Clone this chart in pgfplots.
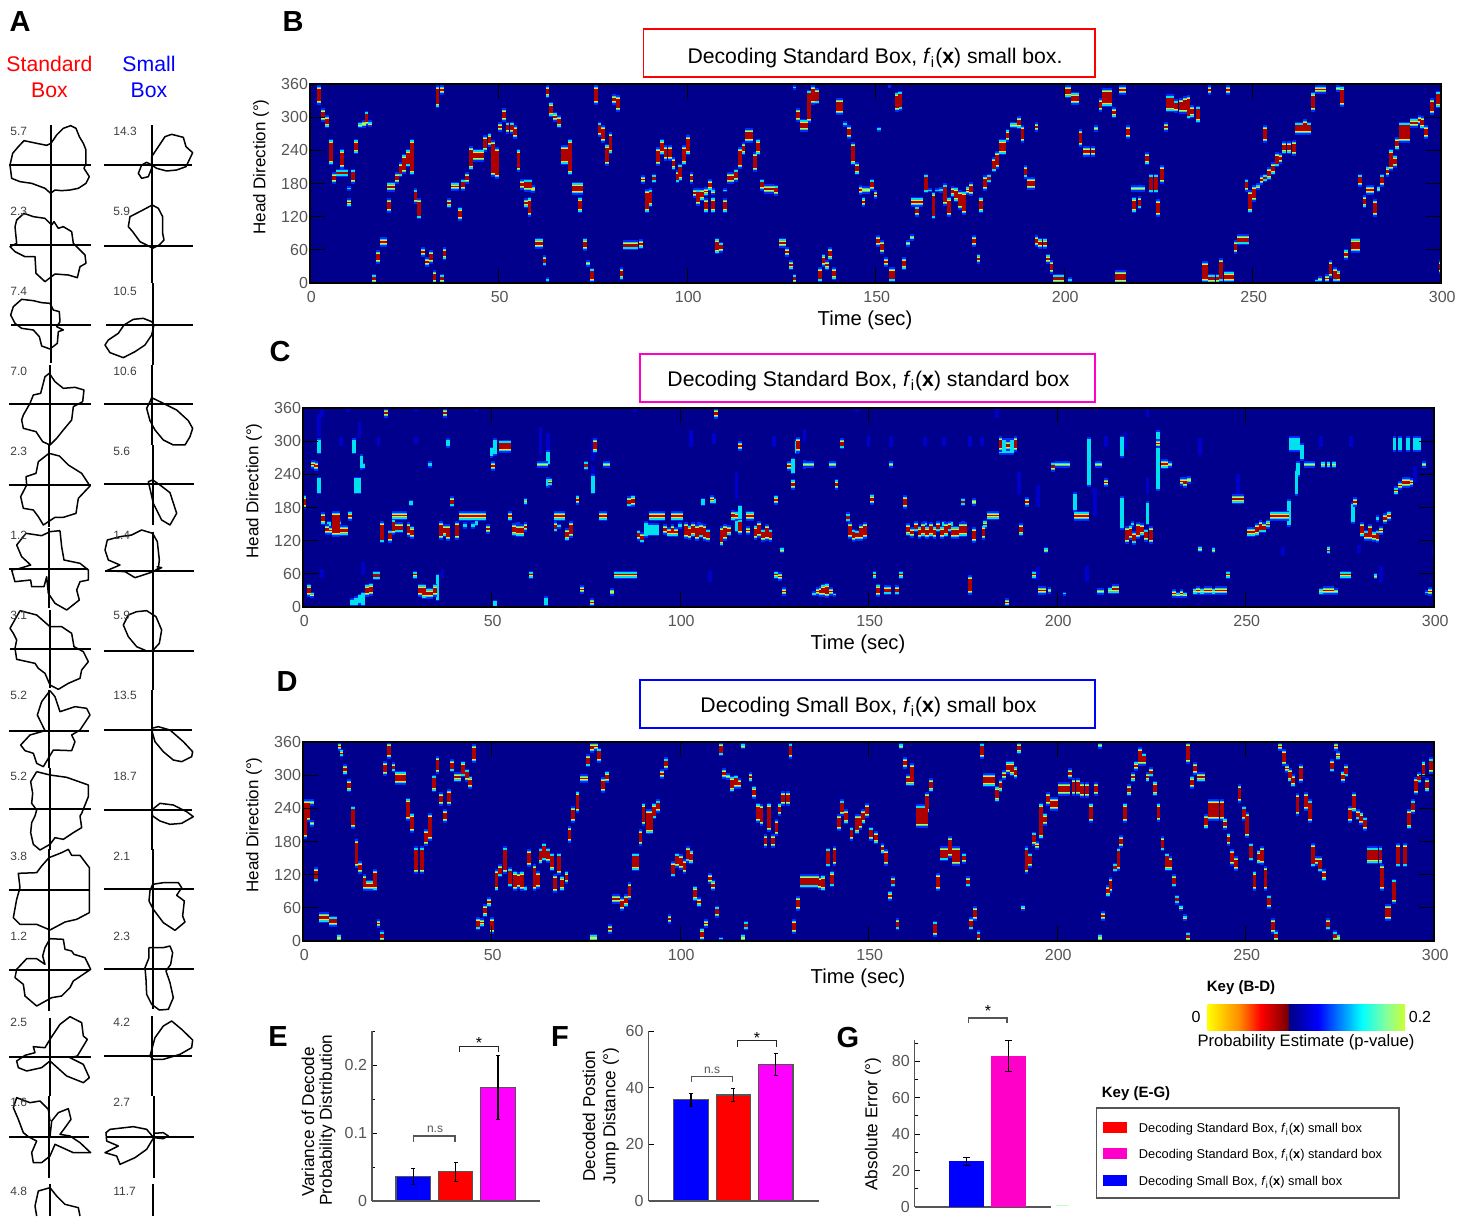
\documentclass[border=0pt]{standalone}
\usepackage{pgfplots}
\usepackage{pgfplotstable}
\usepackage{fontspec}
\setmainfont{Liberation Sans}
\pgfplotsset{compat=1.18}
\definecolor{hb}{RGB}{0,0,140}
\definecolor{jb}{RGB}{0,40,255}
\definecolor{jc}{RGB}{0,225,240}
\definecolor{jy}{RGB}{255,225,0}
\definecolor{jr}{RGB}{175,0,0}
\definecolor{jf}{RGB}{0,0,205}
\definecolor{tg}{RGB}{85,85,85}
\definecolor{mg}{RGB}{255,0,200}
\definecolor{mgg}{RGB}{255,0,255}
\definecolor{kor}{RGB}{255,140,0}
\definecolor{kdr}{RGB}{120,0,0}
\definecolor{kdb}{RGB}{0,0,130}
\definecolor{kgr}{RGB}{128,255,160}
\definecolor{kyg}{RGB}{205,255,50}
\pgfdeclarehorizontalshading{keybar}{100bp}{color(0bp)=(yellow); color(25bp)=(yellow); color(33bp)=(kor); color(38.5bp)=(red); color(45.4bp)=(kdr); color(45.5bp)=(kdb); color(53bp)=(blue); color(64bp)=(cyan); color(70bp)=(kgr); color(75bp)=(kyg); color(100bp)=(kyg)}

\pgfplotstableread[row sep=\\]{x y h\\
2.4 340 18\\3.5 304 12\\4.5 292 12\\5.5 237 24\\6.4 190 11\\7.5 199 8\\8.5 199 8\\8.5 225 18\\9.5 199 8\\10.4 171 4\\10.4 145 8\\11.3 193 14\\12.3 247 14\\13.3 286 6\\14.3 288 7\\15 298 14\\16 288 6\\17 8 9\\18 47 12\\19 74 9\\20 74 9\\21 140 13\\21 174 9\\22 174 9\\23 190 11\\24 205 14\\25 216 18\\26 226 17\\27 228 33\\28 157 14\\29 134 19\\30 56 9\\31 38 9\\32 47 12\\33 11 12\\33.8 337 21\\35 349 9\\35 8 9\\35.7 53 12\\36.8 144 9\\38 175 8\\39 175 8\\39.7 125 13\\40.6 178 11\\41.7 190 11\\42.6 226 22\\43.6 231 12\\44.6 231 12\\45.7 231 12\\46.5 252 15\\47.6 259 13\\48.6 225 33\\49.5 217 29\\50.4 282 9\\51.4 304 12\\52.4 281 11\\53.5 281 11\\54.3 273 12\\55.3 222 21\\56.2 178 10\\57.2 177 12\\58.3 177 12\\59.2 170 7\\57.2 144 9\\58.2 138 18\\60.2 72 10\\61.2 72 10\\62.2 40 10\\63 5 5\\63 346 12\\64 314 14\\65 301 9\\66 292 12\\67 231 18\\68 231 18\\68.9 228 33\\70 171 12\\71 171 12\\72 171 12\\71.7 141 15\\72.9 70 12\\73.8 35 6\\74.8 14 14\\75.8 340 18\\76.8 278 14\\77.7 270 16\\78.8 232 20\\79.7 253 20\\80.7 332 10\\81.6 325 15\\82.6 17 12\\83.6 68 9\\84.6 68 9\\85.6 68 9\\86.6 68 9\\87.7 70 9\\88.3 187 8\\89.3 148 22\\90.3 154 17\\91.3 189 9\\92.3 229 17\\93.3 246 15\\94.3 235 14\\95.4 235 14\\96.4 216 12\\97.5 192 12\\98.2 200 16\\99.3 231 18\\100.2 249 18\\101.2 190 11\\102 163 9\\103 155 16\\104 160 12\\105 140 14\\105 165 8\\106 177 11\\107 165 6\\107 141 15\\108 67 15\\109 65 10\\110 140 14\\110 168 4\\111 190 11\\112 190 11\\113 195 12\\114 226 20\\115 243 12\\116 267 13\\117 267 13\\118 219 18\\118.8 246 15\\119.8 178 11\\120.8 170 9\\121.8 170 9\\122.8 170 9\\123.7 168 10\\124.8 73 9\\125.8 73 9\\126.5 56 9\\127.5 32 9\\128.5 8 9\\128.5 354 4\\129.5 304 12\\130.5 285 12\\131.5 285 12\\132.3 320 30\\133.5 340 18\\134.5 338 15\\135.3 15 14\\136.2 41 12\\137.2 32 9\\138 53 12\\139 17 12\\140 319 15\\141 319 15\\142 288 5\\143 273 12\\144 234 21\\145 207 12\\146 168 9\\147 168 7\\148 168 7\\149 178 11\\150 160 8\\146.8 147 9\\151 278 5\\153.7 355 3\\155.7 328 18\\156.6 330 18\\150.7 76 11\\151.8 65 12\\152.8 38 9\\154 15 14\\154.7 15 14\\157.6 35 12\\158.6 71 6\\159.7 82 6\\160 147 9\\161 147 9\\162 147 9\\161 130 10\\163.4 180 18\\164.4 168 4\\165.4 140 25\\166.4 168 4\\167.4 168 5\\168.4 160 20\\169.4 138 18\\170.4 165 10\\171.4 160 14\\172.4 150 18\\173.4 145 22\\174.4 168 8\\175.4 170 12\\176.2 76 11\\177.3 44 9\\178 141 15\\179 181 14\\180 189 9\\181.4 214 14\\182.3 222 16\\183.2 246 15\\184.2 246 15\\185 267 12\\186.2 286 6\\187.2 286 6\\188 290 12\\189 270 16\\189.8 201 12\\190.7 180 12\\191.8 180 12\\192.7 282 9\\192.7 76 11\\193.7 72 10\\195 72 10\\195.7 44 9\\196.7 29 12\\197.6 8 9\\198.6 8 9\\199.7 8 9\\201.5 5 5\\200.5 346 12\\201.3 346 12\\202.3 334 12\\203.4 334 12\\204.4 262 16\\205.5 238 10\\206.5 238 10\\207.6 238 10\\208.4 280 6\\209.7 322 12\\210.7 335 17\\211.7 335 17\\212.3 335 17\\213.2 308 10\\215 349 9\\216 349 9\\214 11 12\\215 11 12\\216 11 12\\217 273 12\\218.3 171 6\\219.3 171 6\\220.3 171 6\\221 171 6\\218.6 141 15\\220 145 12\\222 225 12\\223 180 18\\224.5 180 18\\226 196 17\\225 136 16\\227 282 9\\227.6 325 16\\228.6 325 16\\229.7 320 12\\231 320 14\\232 322 16\\233 318 22\\234 310 12\\235.5 305 16\\237 20 20\\237.8 20 20\\238.6 349 9\\243.4 349 9\\238.6 8 9\\239.6 8 9\\240.7 8 9\\241.6 23 22\\243 11 11\\244 11 11\\244.6 11 11\\245.5 65 12\\246.5 78 10\\247.5 78 10\\248.6 78 10\\248.4 177 12\\249.4 147 21\\250.4 162 15\\251.4 174 6\\252.4 186 9\\253.4 190 8\\254.4 198 12\\255.5 207 12\\256.5 223 14\\257.3 225 10\\253.3 270 16\\258.3 245 12\\259.7 245 12\\261 244 14\\261.8 280 12\\262.8 280 12\\264 282 14\\265 280 12\\266 328 18\\267 350 8\\268 350 8\\269 350 8\\273.7 338 19\\272.7 352 6\\267 4 4\\268 6 6\\269.7 8 8\\270.7 25 16\\271.8 15 14\\272.8 12 12\\274.7 52 10\\276.5 68 14\\277.3 68 14\\278 68 14\\278.6 186 12\\279.7 147 12\\280.7 168 9\\281.7 168 9\\282.5 136 16\\283.4 170 6\\284.4 186 12\\285.8 202 10\\286.8 223 20\\287.8 220 12\\288.4 252 12\\289.4 273 19\\290.4 273 19\\291.3 273 19\\292.3 290 9\\293.3 290 9\\294.3 295 9\\295 290 12\\296.1 273 12\\297.7 319 15\\299.2 332 16\\299.9 29 12\\
}\tabB

\pgfplotstableread[row sep=\\]{x y h\\
.4 190 13\\1.5 30 12\\2.4 22 6\\2.6 258 8\\3.5 255 9\\5.3 160 12\\6.3 140 10\\7.3 138 8\\8.3 150 23\\9.3 150 23\\10.3 138 10\\11.3 138 10\\12.4 165 9\\17 30 12\\18 32 12\\19 57 9\\20 57 9\\21 135 20\\22 351 9\\23 128 12\\24 145 15\\24 165 8\\25 165 8\\26 165 8\\27 165 8\\25 143 10\\26 143 10\\28 140 13\\29 135 12\\29.7 58 8\\31 30 12\\32 28 14\\33 25 10\\34 25 10\\35 30 12\\37.6 351 9\\36.5 138 17\\37.5 138 12\\38.5 135 15\\39.6 190 10\\40.8 138 17\\42 164 9\\43 164 9\\44 164 9\\45 164 9\\46 164 9\\47 164 9\\48 164 9\\49 141 9\\50.4 255 9\\52.5 291 12\\53.5 291 12\\54.6 291 12\\55 164 9\\56 140 12\\57 138 12\\58 138 12\\59 145 9\\59 191 7\\60.5 58 8\\62.5 258 6\\63.5 258 6\\64.5 258 6\\65.6 226 8\\67 164 9\\68 164 9\\69 164 9\\67 145 10\\70 131 12\\71 140 15\\72.8 194 9\\74 32 8\\75 256 9\\76.7 8 8\\77.5 292 14\\80 258 6\\81 258 6\\82 27 7\\79 164 9\\80 164 9\\83 58 8\\84 58 8\\85 58 8\\86 58 8\\87 58 8\\88 58 8\\86.5 190 10\\87.5 192 11\\89 130 10\\90 125 10\\92.4 164 9\\93.4 164 9\\94.4 164 9\\95.5 164 9\\98.2 164 9\\99.2 164 9\\100.3 164 9\\96 140 10\\97 135 9\\98 138 12\\99 135 9\\101.5 138 15\\102.5 135 14\\103.5 140 14\\104.5 135 15\\105.5 138 14\\106.5 135 15\\107.5 130 12\\108.5 194 8\\109.5 350 10\\111 128 18\\112 135 15\\113 138 10\\114 165 10\\115 165 9\\116 291 9\\116 145 15\\118 165 9\\119 165 9\\118 138 8\\120 135 14\\121 140 15\\122 130 12\\123 135 15\\124 130 12\\125.5 194 9\\125.5 58 8\\126.5 55 8\\127 103 6\\127.5 28 8\\129 255 9\\130 222 10\\131.3 293 14\\133 258 6\\134 258 6\\135 258 6\\140 258 6\\141 258 6\\143 295 10\\141.5 222 10\\135.5 24 5\\136.5 28 8\\137.5 28 10\\138 30 12\\139 30 14\\140 28 8\\141 22 4\\144.5 162 9\\145 138 15\\146 130 12\\147 130 10\\148 135 15\\149 138 15\\151 195 10\\151.6 58 8\\152.6 30 12\\154.5 30 9\\155.5 30 9\\157.5 30 9\\156 258 6\\158.6 58 8\\159.7 190 12\\160.5 140 12\\161.5 135 10\\162.5 145 10\\163.5 135 12\\164.5 140 14\\165.5 135 12\\166.5 140 14\\167.5 135 12\\168.5 145 10\\169.5 135 12\\170.5 140 14\\171.5 145 10\\172.5 135 12\\173.5 135 12\\174.5 140 14\\175.5 140 14\\175 190 8\\178 190 7\\177 40 18\\178 130 14\\180.5 135 14\\181 150 8\\182 165 8\\183 165 8\\184 165 8\\185 295 14\\187 292 10\\189 295 14\\186.8 8 8\\190.5 140 12\\192 190 9\\194 58 8\\195.5 30 8\\196.5 30 8\\197 103 6\\198 30 6\\199 254 9\\200 258 6\\201 258 6\\202 258 6\\203 258 6\\202 24 4\\205 165 9\\206 165 9\\207 165 9\\208 165 9\\210.5 258 6\\211.5 258 6\\213 225 8\\211 28 6\\212 28 6\\214 30 7\\215 32 9\\216 32 9\\218.5 130 16\\219.5 135 14\\220.5 125 12\\221.5 138 15\\222.5 140 12\\223.5 130 12\\225 130 16\\226.8 296 8\\228 258 9\\229 258 9\\230 258 6\\233 227 8\\234 225 10\\235 230 7\\231 24 8\\232 22 6\\233 24 8\\234 22 6\\236.5 28 7\\237.5 30 8\\238.5 28 7\\239.5 30 8\\240.5 30 8\\241.5 28 7\\242.5 30 8\\243.5 30 8\\244.5 30 8\\238 105 6\\241.5 103 6\\245.3 58 8\\247 195 9\\248 195 9\\249 195 9\\251 135 9\\252 135 9\\253 140 12\\254 145 12\\255 143 10\\256 150 8\\257 165 9\\258 165 9\\259 165 9\\260 165 9\\261 165 9\\266 258 6\\267 258 6\\268 258 6\\270.5 258 7\\272 258 7\\273.5 258 7\\270 28 7\\271 30 8\\272 30 8\\273 30 8\\274 28 6\\275.5 58 8\\276.5 58 8\\277.5 58 8\\272 103 8\\279 190 9\\281 140 14\\282 130 10\\283 135 15\\284 128 10\\285 128 12\\286 138 8\\284.5 56 6\\287 160 10\\288 165 9\\290 210 8\\291 220 8\\292 225 10\\293 225 10\\294 225 8\\297.4 258 6\\298 26 4\\299 28 8\\
}\tabC

\pgfplotstableread[row sep=\\]{x y h\\
4.3 291 15\\4.3 220 16\\13.5 291 15\\14 220 16\\15 220 16\\15.5 262 14\\16 255 6\\13 8 8\\14 10 10\\15 14 10\\16 14 14\\28.7 188 6\\33.6 258 6\\35.7 35 25\\38.5 297 9\\50 280 10\\51 290 16\\51 6 7\\65 270 14\\65 225 10\\77 222 18\\64.5 10 9\\91 140 15\\92 140 12\\93 140 12\\94 140 12\\106 190 8\\109 192 6\\115 150 15\\116 165 20\\131 290 14\\130 255 15\\133 258 8\\185 290 15\\186 290 15\\187 290 15\\188 290 15\\208.5 262 45\\217.2 170 30\\217.2 290 20\\224 170 22\\226.8 270 50\\226.8 225 15\\204.7 190 18\\262 295 14\\263 295 14\\264 295 14\\265 280 16\\261.5 170 25\\263.5 225 24\\264 250 14\\278.5 170 20\\289.5 295 14\\291 295 14\\293 295 14\\295 295 14\\296 295 14\\7 150 6\\9.5 152 5\\45 148 6\\46 152 6\\43 148 6\\57 148 5\\68 146 5\\100 148 6\\105 150 4\\165 150 5\\170 150 6\\172 150 6\\175 150 5\\220 150 5\\285 160 6\\
}\tabCc

\pgfplotstableread[row sep=\\]{x y h\\
4.3 330 20\\15 320 15\\20 300 8\\10 300 8\\30 300 5\\63 300 25\\65 295 20\\77 230 25\\77 285 20\\103 305 15\\109 305 10\\115 220 25\\125 300 10\\133 310 12\\150 300 10\\156 300 10\\165 300 8\\170 300 8\\177 300 10\\180 300 8\\190 225 20\\195 200 20\\210 190 25\\213 300 10\\218 300 15\\224 220 15\\238 290 15\\248 220 20\\270 300 10\\278 300 10\\286 60 15\\295 240 15\\5 350 6\\12 356 3\\30 356 3\\46 356 3\\88 356 3\\147 356 3\\184 350 8\\224 350 6\\5 60 8\\37 60 8\\16 70 12\\108 55 10\\195 60 12\\208 60 15\\280 105 8\\260 100 8\\300 100 8\\
}\tabCf

\pgfplotstableread[row sep=\\]{x y h\\
.5 221 36\\1.3 236 21\\2.3 251 6\\2.3 213 6\\3.4 120 14\\4.7 42 10\\5.7 42 10\\6.3 42 10\\7.4 36 10\\8.4 36 10\\9.5 6 7\\9.7 352 8\\10.2 340 8\\11.2 310 10\\12.2 281 12\\13.2 224 21\\14.2 158 26\\15.1 133 12\\16.3 106 15\\17.3 101 10\\18.3 101 10\\19 110 20\\20 32 8\\21 9 10\\22.9 345 15\\21.8 312 13\\24 314 9\\25 295 13\\26 295 13\\26.8 295 13\\27.8 238 21\\28.9 214 18\\30 146 25\\31.5 146 25\\32.6 187 15\\33.6 206 25\\34.7 285 16\\35.7 318 16\\36.6 257 12\\37.6 226 12\\38.7 260 15\\39.6 317 12\\40.6 296 9\\41.5 296 9\\42.5 311 15\\43.5 300 12\\44.4 287 12\\45.4 339 17\\46.5 31 12\\47.5 33 8\\48.3 55 12\\49.4 70 9\\50.2 28 15\\51.3 110 20\\52.3 127 12\\53.6 146 25\\54.8 115 18\\56.2 109 18\\57 109 15\\58 109 18\\59 95 5\\60 150 16\\61.4 115 24\\62.3 110 16\\63 154 15\\64 161 17\\65 155 14\\66 143 17\\66.9 104 17\\67.9 140 20\\68.8 104 14\\69.9 115 12\\70.7 193 15\\71.7 229 15\\72.8 252 20\\74 294 8\\75 294 8\\75.6 326 12\\76.7 350 10\\77.7 352 8\\78.6 336 14\\76.7 6 7\\77.6 6 7\\79.6 282 14\\80.6 297 11\\81.5 22 9\\82.5 76 9\\83.5 76 9\\84.6 67 12\\85.6 73 12\\86.6 90 16\\87.7 143 17\\88.5 143 17\\89.5 187 15\\90.3 229 21\\91.4 216 23\\92.4 216 23\\93.2 235 15\\94.2 244 12\\95.3 302 9\\96.2 321 11\\97.2 40 9\\98.2 130 15\\99.3 146 14\\100.3 143 14\\101.2 135 13\\102.1 157 15\\103 152 13\\104 86 14\\105 70 9\\105.9 12 12\\107 32 8\\107.9 113 10\\108.8 101 10\\109.9 53 11\\110.8 4 4\\110.8 347 13\\111.7 303 10\\112.7 298 6\\113.8 284 15\\114.8 288 13\\115.8 285 10\\116.7 353 6\\116.7 6 7\\117.6 28 9\\118.7 296 9\\119.6 269 12\\120.6 232 18\\121.6 228 20\\122.7 181 12\\123.7 224 26\\124.6 181 12\\125.6 205 15\\126.4 238 12\\127.3 258 13\\128.6 258 13\\129.3 344 15\\130.3 26 13\\131.4 68 13\\132.3 108 13\\133.3 108 13\\134.3 108 13\\135.3 108 13\\136.3 108 13\\137 105 12\\138 105 15\\139.2 151 18\\140.3 112 15\\141 154 18\\142.1 214 15\\143 241 15\\144 225 14\\145.5 194 13\\146.9 211 18\\147.7 215 14\\148.5 225 14\\149.5 236 13\\150.7 194 13\\152 187 12\\153.7 167 10\\154.7 151 15\\156.5 107 10\\155.8 82 9\\157.7 30 11\\158.7 353 6\\159.7 322 11\\161.6 301 21\\160.5 291 11\\165.5 250 19\\166.5 282 13\\163.2 226 21\\164.2 226 21\\165.3 226 21\\167.6 22 15\\168.4 107 16\\169.5 158 14\\170.5 158 14\\171.6 170 20\\172.6 154 18\\173.7 154 18\\175.3 150 10\\176.3 107 10\\177.2 31 12\\178.2 50 13\\179.2 9 10\\180.2 344 15\\181 291 13\\182 291 13\\183 291 13\\184 266 15\\185 281 12\\186 300 9\\187 314 12\\188 312 14\\189 305 12\\190 349 11\\191 60 6\\191.9 146 25\\192.8 146 14\\193.8 185 13\\194.7 173 8\\195.8 217 33\\196.8 220 12\\197.7 257 12\\198.6 248 12\\199.7 248 12\\200.8 275 12\\201.8 275 12\\203 275 12\\203.5 303 10\\204.4 279 16\\205.5 279 16\\206.6 273 14\\207.9 273 14\\209 232 18\\210.3 275 12\\211.4 354 6\\211.4 6 7\\212.3 45 9\\213.5 90 11\\214.2 101 14\\215.3 133 9\\216.3 148 21\\217 180 11\\218 232 18\\219.2 273 11\\220.1 296 9\\221 317 9\\222 334 17\\223 329 12\\224 296 9\\225 305 9\\226 276 14\\226.9 233 17\\228 176 14\\229.2 143 17\\230 140 14\\231 109 12\\231.8 75 9\\232.9 60 6\\233.9 42 6\\234.7 8 9\\234.7 340 20\\235.8 287 12\\236.6 312 11\\237.7 296 9\\238.7 296 9\\239.6 216 14\\240.5 237 20\\241.5 237 20\\242.5 237 20\\243.7 237 20\\244.5 212 11\\245.5 184 12\\246.5 151 15\\247.5 140 13\\248.4 267 17\\249.5 231 14\\250.3 210 23\\251.4 161 17\\252.4 109 18\\253.5 152 13\\254.4 155 17\\255.3 113 22\\256.2 71 13\\257.3 27 14\\258.1 9 10\\259.2 352 8\\260.2 332 15\\261 312 8\\261.7 300 13\\262.7 290 12\\263.8 247 21\\264.7 303 17\\266 252 17\\267 235 21\\267.9 155 22\\269 145 9\\269.8 139 15\\270.8 119 11\\271.9 30 11\\272.9 317 12\\273.9 352 8\\274.5 335 8\\273.8 9 10\\274.5 6 7\\275.8 297 11\\276.7 308 12\\277.7 229 15\\278.7 251 18\\279.8 228 10\\280.7 222 12\\281.7 212 13\\282.7 155 16\\283.7 155 16\\284.7 155 16\\285.8 155 16\\286.3 115 24\\287.4 52 15\\288.2 52 15\\289.3 90 23\\290.5 155 22\\292.4 155 22\\293.3 220 18\\294.4 243 13\\295.3 280 16\\296.1 295 10\\297.2 311 15\\298.2 282 13\\299.1 317 15\\
}\tabD

% every row of a table is a vertical streak x, y +- h; one path per colour layer
\def\addseg#1#2{\ifdim \vh pt>#2pt \edef#1{#1(\vx,\fpeval{\vy-\vh+#2})(\vx,\fpeval{\vy+\vh-#2})(\vx,nan)}\fi}
\newcommand{\build}[1]{%
 \pgfplotstablegetrowsof{#1}\pgfmathtruncatemacro\nr{\pgfplotsretval-1}%
 \def\La{}\def\Lb{}\def\Lc{}\def\Ld{}%
 \pgfplotsforeachungrouped \ii in {0,...,\nr}{%
  \pgfplotstablegetelem{\ii}{x}\of{#1}\let\vx\pgfplotsretval
  \pgfplotstablegetelem{\ii}{y}\of{#1}\let\vy\pgfplotsretval
  \pgfplotstablegetelem{\ii}{h}\of{#1}\let\vh\pgfplotsretval
  \addseg\La{0}\addseg\Lb{3}\addseg\Lc{5.5}\addseg\Ld{7}}}
\newcommand{\plt}[2]{\edef\tmpp{\noexpand\addplot[draw=#1,line width=1.9pt,no markers,line cap=butt,unbounded coords=jump] coordinates {#2};}\tmpp}
\newcommand{\heat}[1]{\build{#1}\plt{jb}{\La}\plt{jc}{\Lb}\plt{jy}{\Lc}\plt{jr}{\Ld}}
\newcommand{\cool}[1]{\build{#1}\plt{jb}{\La}\plt{jc}{\Lb}}

\pgfplotsset{
 heatax/.style={scale only axis,width=565.5pt,height=99.5pt,xmin=0,xmax=300,ymin=0,ymax=360,
  xtick={0,50,...,300},ytick={0,60,...,360},tick align=inside,axis on top,clip=true,
  axis background/.style={fill=hb},major tick length=7.5pt,tick style={black,line width=.5pt},
  /pgf/number format/assume math mode=true,
  tick label style={font=\fontsize{8}{9}\selectfont,text=tg},
  xticklabel style={yshift=-.5pt,xshift=.6pt},yticklabel style={xshift=2.5pt},
  axis line style={black,line width=.6pt}},
 barax/.style={scale only axis,axis lines=left,axis line style={-,draw=tg,line width=.6pt},
  xtick=\empty,enlargelimits=false,tick align=inside,clip=false,
  major tick length=2.5pt,minor tick length=1.5pt,tick style={black,line width=.4pt},
  /pgf/number format/assume math mode=true,
  tick label style={font=\fontsize{8}{9}\selectfont,text=tg},
  yticklabel style={xshift=1pt}},
 bb/.style={ybar,bar shift=0pt,bar width=17.2pt,fill=#1,draw=tg,line width=.6pt,
  error bars/.cd,y dir=both,y explicit,error bar style={black,line width=.6pt},
  error mark options={rotate=90,mark size=1pt,black,line width=.5pt}},
 bn/.style={ybar,bar shift=0pt,bar width=17.5pt,fill=#1,draw=none,
  error bars/.cd,y dir=both,y explicit,error bar style={black,line width=.6pt},
  error mark options={rotate=90,mark size=1.8pt,black,line width=.5pt}},
 pnl/.style={hide axis,scale only axis,clip=false,y dir=reverse,xmin=0,xmax=630,ymin=0,width=105pt},
 pl/.style={black,line width=.75pt,no markers,line join=round},
 cr/.style={black,line width=.85pt,no markers},
}
\newcommand{\pol}[1]{\addplot[pl] coordinates {#1};}
\newcommand{\crs}[6]{\addplot[cr] coordinates {(#1,#2)(#1,#3)};\addplot[cr] coordinates {(#5,#4)(#6,#4)};}
\newcommand{\fs}[1]{\fontsize{#1}{#1}\selectfont}
\newcommand{\fxi}{\textit{f}\textsubscript{i}(\textbf{x})}

\begin{document}
\begin{tikzpicture}[x=0.5pt,y=0.5pt]
\path[use as bounding box] (0,0) rectangle (1472,1216);

% ---- Panel A
\begin{axis}[pnl,at={(0pt,398pt)},anchor=south west,height=210pt,ymax=1260]
\crs{153}{375}{610}{495}{28}{272}
\pol{(153,430)(170,405)(190,385)(212,377)(228,385)(238,410)(250,430)(258,450)(258,490)(252,505)(268,530)(258,550)(235,565)(210,570)(185,572)(165,570)(152,580)(135,565)(95,550)(60,545)(35,535)(30,495)(38,460)(55,440)(72,422)(110,430)(140,436)(153,430)}
\crs{455}{375}{610}{495}{313}{575}
\pol{(455,470)(475,440)(495,410)(515,403)(550,412)(558,440)(578,458)(570,475)(558,500)(530,510)(500,513)(470,505)(455,495)(440,487)(425,495)(415,520)(425,535)(445,530)(455,505)(455,470)}
\crs{153}{610}{850}{736}{30}{272}
\pol{(155,675)(135,655)(100,650)(72,640)(50,660)(45,680)(50,730)(30,740)(45,755)(75,770)(105,770)(108,820)(135,845)(165,822)(205,825)(232,833)(240,800)(258,790)(255,765)(230,740)(220,730)(215,695)(190,680)(175,685)(162,665)(155,675)}
\crs{457}{610}{850}{739}{313}{580}
\pol{(457,615)(475,625)(488,650)(488,700)(492,720)(478,735)(458,745)(440,735)(420,725)(398,695)(385,680)(390,650)(425,632)(457,615)}
\crs{153}{850}{1090}{975}{33}{272}
\pol{(150,910)(160,930)(178,935)(180,965)(170,980)(190,990)(175,995)(172,1030)(150,1047)(125,1038)(118,1010)(100,990)(65,985)(45,970)(32,945)(40,920)(65,898)(100,902)(125,908)(150,910)}
\crs{460}{850}{1095}{975}{318}{580}
\pol{(462,975)(455,1005)(435,1035)(405,1055)(370,1073)(330,1058)(315,1035)(325,1020)(355,1000)(372,975)(400,958)(430,955)(455,965)(462,975)}
\crs{150}{1095}{1335}{1213}{28}{272}
\pol{(148,1120)(165,1145)(190,1165)(225,1162)(252,1170)(248,1205)(220,1220)(215,1260)(190,1290)(170,1315)(150,1335)(128,1325)(108,1295)(70,1285)(65,1260)(70,1245)(90,1210)(100,1185)(122,1180)(135,1130)(148,1120)}
\crs{457}{1095}{1335}{1213}{313}{578}
\pol{(455,1193)(490,1210)(530,1230)(565,1262)(578,1285)(570,1310)(555,1335)(520,1335)(490,1320)(465,1290)(450,1262)(440,1225)(450,1205)(455,1193)}
\end{axis}
\begin{axis}[pnl,at={(0pt,198pt)},anchor=south west,height=200pt,ymax=1200]
\crs{147}{75}{320}{196}{28}{272}
\pol{(147,100)(178,108)(205,135)(245,160)(270,198)(235,235)(228,280)(190,292)(165,292)(130,315)(115,290)(100,270)(70,265)(62,230)(80,195)(78,170)(108,160)(115,125)(147,100)}
\crs{458}{75}{315}{192}{313}{582}
\pol{(458,180)(470,188)(480,195)(510,218)(530,280)(510,315)(485,300)(460,250)(452,215)(445,185)(458,180)}
\crs{147}{325}{565}{446}{28}{265}
\pol{(180,332)(185,380)(192,420)(240,430)(265,450)(265,480)(240,485)(230,510)(238,540)(200,570)(165,550)(145,520)(140,470)(132,500)(95,500)(92,480)(45,485)(35,450)(60,445)(92,435)(65,410)(50,375)(78,340)(125,347)(150,335)(180,332)}
\crs{460}{335}{570}{453}{315}{582}
\pol{(458,340)(472,365)(478,420)(475,445)(460,455)(430,465)(405,473)(375,455)(320,452)(360,435)(325,420)(315,390)(322,360)(360,350)(395,345)(425,330)(458,340)}
\pol{(470,440)(485,443)(460,455)}
\crs{151}{570}{805}{687}{30}{272}
\pol{(60,572)(110,585)(150,620)(185,620)(215,640)(222,680)(250,695)(265,725)(245,750)(240,775)(205,790)(175,808)(150,795)(135,760)(115,745)(105,730)(50,718)(45,685)(50,660)(40,640)(30,625)(60,572)}
\crs{458}{570}{810}{692}{313}{582}
\pol{(458,692)(478,670)(485,630)(468,590)(440,572)(410,575)(385,585)(370,615)(385,650)(410,680)(440,693)(458,692)}
\crs{147}{810}{1045}{932}{28}{268}
\pol{(150,812)(165,830)(180,875)(225,860)(260,865)(270,885)(240,930)(215,945)(225,965)(215,992)(160,990)(130,1040)(110,1030)(100,1000)(75,992)(62,975)(90,945)(135,932)(112,885)(125,845)(150,812)}
\crs{455}{810}{1045}{930}{313}{575}
\pol{(455,925)(475,920)(510,930)(550,965)(578,995)(575,1010)(545,1025)(520,1020)(490,995)(465,965)(455,930)}
\crs{150}{1045}{1290}{1166}{28}{272}
\pol{(110,1055)(150,1065)(200,1072)(265,1095)(265,1130)(245,1180)(240,1188)(245,1223)(220,1238)(190,1258)(165,1253)(150,1273)(120,1290)(100,1273)(92,1238)(95,1208)(105,1188)(110,1170)(95,1150)(98,1120)(92,1085)(110,1055)}
\crs{455}{1045}{1290}{1170}{313}{575}
\pol{(455,1170)(480,1150)(520,1155)(560,1175)(580,1190)(545,1210)(510,1213)(480,1203)(458,1188)(455,1170)}
\end{axis}
\begin{axis}[pnl,at={(0pt,0pt)},anchor=south west,height=200pt,ymax=1200]
\crs{147}{100}{345}{221}{28}{270}
\pol{(147,125)(185,110)(205,100)(215,118)(240,118)(268,155)(268,290)(230,310)(195,318)(150,342)(110,325)(60,325)(40,305)(50,250)(60,215)(55,172)(110,170)(125,150)(147,125)}
\crs{458}{100}{340}{218}{313}{582}
\pol{(458,205)(490,200)(535,200)(545,215)(530,238)(553,255)(548,300)(555,318)(525,343)(490,320)(460,280)(447,255)(450,225)(458,205)}
\crs{147}{345}{585}{462}{28}{270}
\pol{(150,368)(190,370)(195,400)(215,405)(222,415)(255,425)(272,460)(220,495)(210,515)(185,540)(155,545)(110,570)(75,540)(70,505)(45,485)(50,460)(80,428)(110,428)(135,445)(128,420)(135,395)(150,368)}
\crs{458}{340}{578}{459}{313}{582}
\pol{(447,395)(490,395)(510,390)(518,410)(512,445)(498,465)(510,500)(520,545)(505,580)(478,582)(455,565)(440,535)(438,490)(435,455)(447,425)(447,395)}
\crs{150}{605}{840}{723}{28}{272}
\pol{(150,725)(150,670)(180,625)(210,602)(245,620)(250,660)(262,670)(232,720)(210,725)(250,745)(268,785)(250,800)(200,780)(150,735)(125,755)(80,765)(55,755)(50,735)(75,718)(105,710)(100,692)(135,695)(150,670)}
\crs{456}{600}{840}{720}{313}{575}
\pol{(450,720)(465,665)(490,630)(515,615)(545,640)(578,672)(575,695)(540,715)(490,730)(460,730)(450,720)}
\crs{148}{840}{1085}{962}{28}{268}
\pol{(150,962)(155,915)(175,890)(205,878)(213,910)(195,935)(180,955)(210,960)(240,980)(272,1010)(220,1010)(165,985)(150,1020)(125,1040)(100,1040)(95,1010)(110,975)(85,962)(70,950)(55,910)(40,875)(50,845)(90,860)(120,855)(145,880)(150,915)}
\crs{461}{840}{1085}{962}{318}{582}
\pol{(461,965)(440,1000)(405,1025)(360,1045)(350,1020)(315,1010)(355,990)(320,975)(318,950)(330,940)(400,932)(440,940)(461,965)}
\pol{(461,952)(490,950)(505,960)(490,968)(461,965)}
\addplot[cr] coordinates {(150,1105)(150,1200)};
\addplot[cr] coordinates {(458,1105)(458,1200)};
\pol{(240,1200)(235,1175)(195,1165)(170,1140)(150,1115)(115,1125)(105,1170)(110,1200)}
\end{axis}

% ---- Panels B, C, D
\begin{axis}[heatax,at={(155pt,466.5pt)},anchor=south west]
\heat{\tabB}
\end{axis}
\begin{axis}[heatax,at={(151.5pt,304.5pt)},anchor=south west]
\build{\tabCf}\plt{jf}{\La}
\cool{\tabCc}
\heat{\tabC}
\end{axis}
\begin{axis}[heatax,at={(151.5pt,137.5pt)},anchor=south west]
\heat{\tabD}
\end{axis}

% ---- Panel E
\begin{axis}[barax,at={(186pt,7.5pt)},anchor=south west,width=84pt,height=85pt,xmin=0.028,xmax=3.99,ymin=0,ymax=0.25,
 ytick={0,0.1,0.2},yticklabels={0,0.1,0.2},minor ytick={0.05,0.15,0.25}]
\addplot[bb=blue] table[row sep=\\,x=x,y=y,y error plus=p,y error minus=m]{x y p m\\1 0.0365 0.0117 0.0117\\};
\addplot[bb=red] table[row sep=\\,x=x,y=y,y error plus=p,y error minus=m]{x y p m\\2 0.043 0.014 0.0143\\};
\addplot[bb=mgg] table[row sep=\\,x=x,y=y,y error plus=p,y error minus=m]{x y p m\\3 0.1665 0.0471 0.0468\\};
\end{axis}
% ---- Panel F
\begin{axis}[barax,at={(324.3pt,7.5pt)},anchor=south west,width=85.2pt,height=85pt,xmin=0,xmax=4.02,ymin=0,ymax=60,
 ytick={0,20,40,60}]
\addplot[bb=blue] table[row sep=\\,x=x,y=y,y error plus=p,y error minus=m]{x y p m\\1 35.9 2.1 2.4\\};
\addplot[bb=red] table[row sep=\\,x=x,y=y,y error plus=p,y error minus=m]{x y p m\\2 37.4 2.3 2.2\\};
\addplot[bb=mgg] table[row sep=\\,x=x,y=y,y error plus=p,y error minus=m]{x y p m\\3 48.2 3.8 4\\};
\end{axis}
% ---- Panel G
\begin{axis}[barax,at={(457.4pt,4.5pt)},anchor=south west,width=68.1pt,height=83.5pt,xmin=-0.23,xmax=3.01,ymin=0,ymax=91.6,
 ytick={0,20,...,80},minor ytick={10,30,50,70,90}]
\addplot[bn=blue] table[row sep=\\,x=x,y=y,y error plus=p,y error minus=m]{x y p m\\1 25.2 2.1 2.2\\};
\addplot[bn=mg] table[row sep=\\,x=x,y=y,y error plus=p,y error minus=m]{x y p m\\2 83 8.6 8.5\\};
\end{axis}

\begin{scope}[shift={(0,1216)},y=-0.5pt]
\draw[green!25!white,line width=.5pt] (1056,1205)--(1068,1205);

% ---- Brackets
\draw[tg,line width=.6pt] (413.6,1141.7)--(413.6,1136)--(455,1136)--(455,1141.7);
\draw[black!85,line width=.5pt] (459,1051.7)--(459,1046)--(498,1046)--(498,1051.7);
\draw[tg,line width=.6pt] (691.4,1082)--(691.4,1076.7)--(732.5,1076.7)--(732.5,1082);
\draw[black!85,line width=.5pt] (737.5,1046.5)--(737.5,1040.7)--(776,1040.7)--(776,1046.5);
\draw[tg,line width=.6pt] (968.5,1023)--(968.5,1018)--(1007,1018)--(1007,1023);
\node[font=\fs{6},text=tg] at (435,1129) {n.s};
\node[font=\fs{6},text=tg] at (712,1070) {n.s};
\node[font=\fs{8}] at (479,1043) {*};
\node[font=\fs{8}] at (757,1037.5) {*};
\node[font=\fs{8}] at (988,1011) {*};

% ---- Panel letters
\foreach \l/\x/\y in {A/20/22,B/293/22,C/280/352,D/287/682,E/278/1037,F/560/1037,G/848/1038}
 \node[font=\fs{14.5}\bfseries] at (\x,\y) {\l};

% ---- Panel A text
\node[font=\fs{10.6},text=red] at (49.5,64) {Standard};
\node[font=\fs{10.6},text=red] at (49.5,90) {Box};
\node[font=\fs{10.6},text=blue] at (149,64) {Small};
\node[font=\fs{10.6},text=blue] at (149,90) {Box};
\foreach \a/\b/\y in {5.7/14.3/131,2.3/5.9/211,7.4/10.5/291,7.0/10.6/371,2.3/5.6/451,1.2/1.4/535,3.1/5.9/615,5.2/13.5/695,5.2/18.7/776,3.8/2.1/856,1.2/2.3/936,2.5/4.2/1022,1.6/2.7/1102,4.8/11.7/1191}{
 \node[font=\fs{6},text=black!75,anchor=west,inner sep=0pt] at (10,\y) {\a};
 \node[font=\fs{6},text=black!75,anchor=west,inner sep=0pt] at (113,\y) {\b};
}

% ---- Titles
\draw[red,line width=.8pt] (643.5,29) rectangle (1095,77);
\node[font=\fs{10.6}] at (875,58.5) {Decoding Standard Box, \fxi{} small box.};
\draw[mg,line width=.8pt] (640,354) rectangle (1095,402);
\node[font=\fs{10.6}] at (868.5,381.5) {Decoding Standard Box, \fxi{} standard box};
\draw[blue,line width=.8pt] (640,680) rectangle (1095,728);
\node[font=\fs{10.6}] at (868.5,707.5) {Decoding Small Box, \fxi{} small box};

% ---- Axis labels of B, C, D
\node[font=\fs{10.1}] at (865,320) {Time (sec)};
\node[font=\fs{10.1}] at (858,644.5) {Time (sec)};
\node[font=\fs{10.1}] at (858,978) {Time (sec)};
\node[font=\fs{8.5},rotate=90] at (261,167) {Head Direction (°)};
\node[font=\fs{8.5},rotate=90] at (254,491) {Head Direction (°)};
\node[font=\fs{8.5},rotate=90] at (254,825) {Head Direction (°)};

% ---- Axis labels of E, F, G
\node[font=\fs{8.6},rotate=90] at (308,1122) {Variance of Decode};
\node[font=\fs{8.6},rotate=90] at (327.5,1120) {Probability Distribution};
\node[font=\fs{8.6},rotate=90] at (589,1116) {Decoded Postion};
\node[font=\fs{8.6},rotate=90] at (611,1116) {Jump Distance (°)};
\node[font=\fs{8.6},rotate=90] at (873,1124) {Absolute Error (°)};

% ---- Key B-D
\node[font=\fs{7.5}\bfseries] at (1241,987.5) {Key (B-D)};
\shade[shading=keybar] (1207.5,1004) rectangle (1405,1030);
\node[font=\fs{8}] at (1196,1016.5) {0};
\node[font=\fs{8}] at (1420,1016.5) {0.2};
\node[font=\fs{8.3}] at (1306,1042) {Probability Estimate (p-value)};

% ---- Key E-G
\node[font=\fs{7.5}\bfseries] at (1136,1093.5) {Key (E-G)};
\draw[tg,line width=.6pt] (1096.4,1108) rectangle (1399,1198);
\fill[red] (1102.5,1122) rectangle (1127,1133);
\fill[mg] (1102.5,1148) rectangle (1127,1159);
\fill[blue] (1102.5,1175) rectangle (1127,1186);
\node[font=\fs{6.4},anchor=west,inner sep=0pt] at (1138.5,1129.5) {Decoding Standard Box, \fxi{} small box};
\node[font=\fs{6.4},anchor=west,inner sep=0pt] at (1138.5,1155.5) {Decoding Standard Box, \fxi{} standard box};
\node[font=\fs{6.4},anchor=west,inner sep=0pt] at (1138.5,1182.5) {Decoding Small Box, \fxi{} small box};
\end{scope}
\end{tikzpicture}
\end{document}
